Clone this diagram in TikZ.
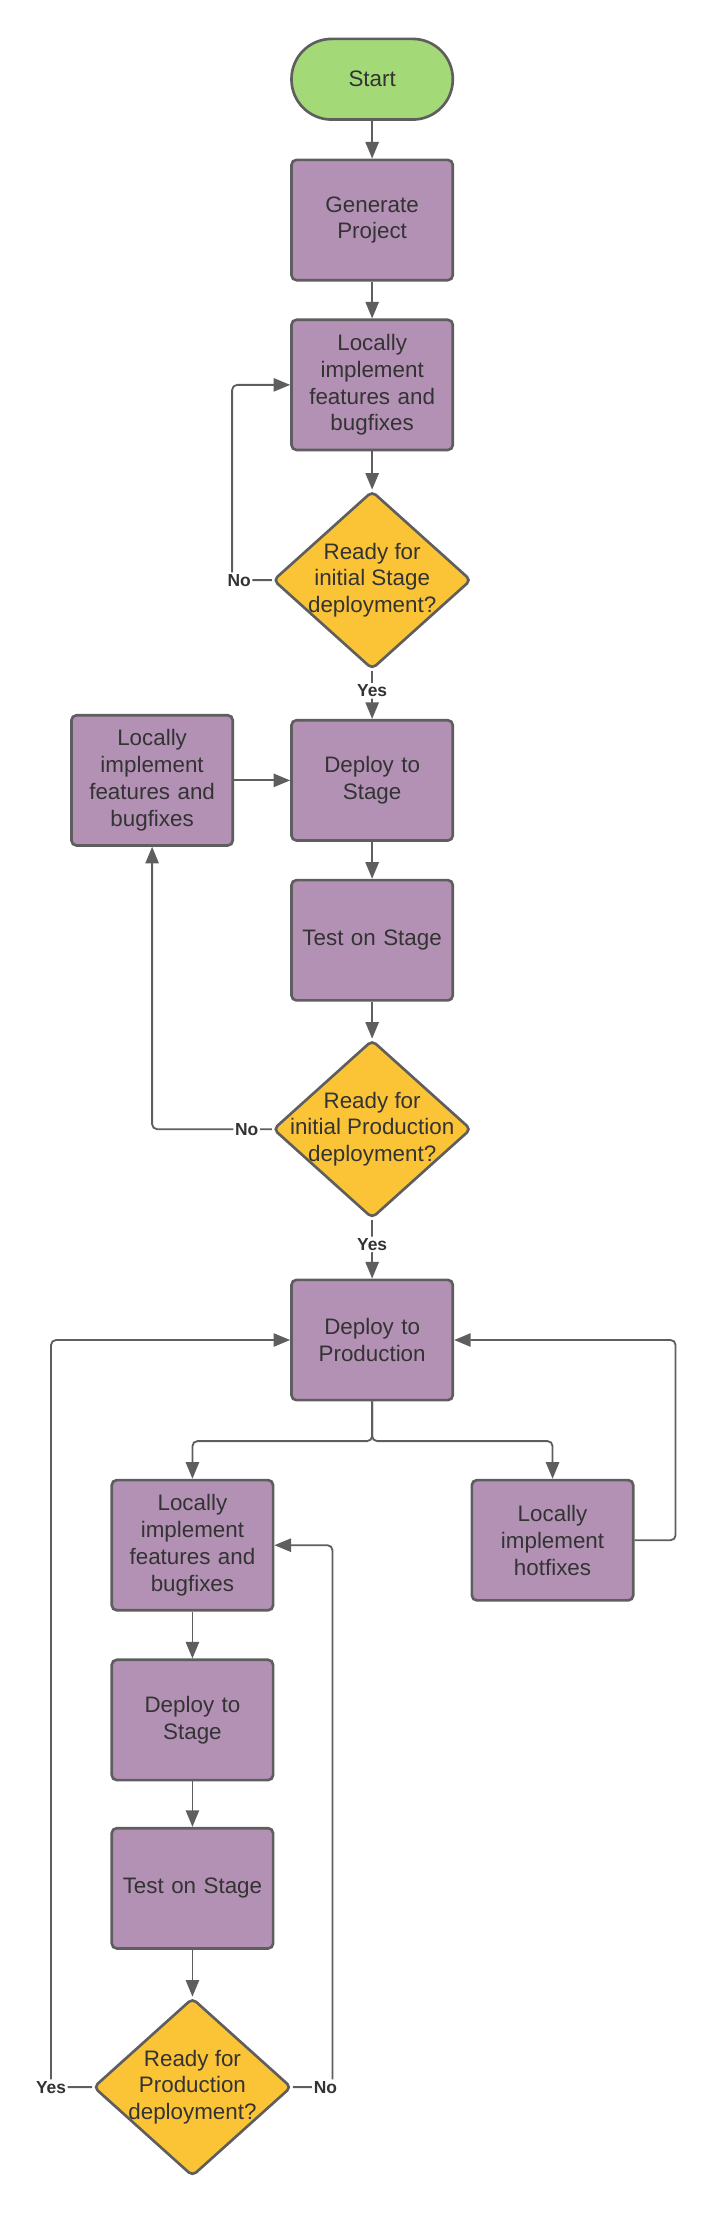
\documentclass[tikz,border=0pt]{standalone}
\usepackage{fontspec}
\setmainfont{Liberation Sans}
\usetikzlibrary{shapes.geometric,arrows.meta}
\definecolor{cgreen}{HTML}{A3D977}
\definecolor{cpurple}{HTML}{B391B5}
\definecolor{cyellow}{HTML}{FBC437}
\definecolor{cstroke}{HTML}{5E5E5E}
\definecolor{ctext}{HTML}{333333}
\begin{document}
\begin{tikzpicture}[x=0.03cm,y=-0.03cm,
 base/.style={draw=cstroke, line width=1.6pt, text=ctext, font=\fontsize{13.5}{16.2}\selectfont, align=center, inner sep=0pt},
 proc/.style={base, fill=cpurple, rounded corners=3pt, minimum width=3.42cm, minimum height=2.55cm, text width=3.3cm},
 tall/.style={proc, minimum height=2.76cm},
 startbox/.style={base, fill=cgreen, rounded corners=0.85cm, minimum width=3.42cm, minimum height=1.71cm},
 decision/.style={base, diamond, fill=cyellow, rounded corners=3pt, minimum width=4.2cm, minimum height=3.78cm},
 dtext/.style={text=ctext, font=\fontsize{13.5}{16.2}\selectfont, align=center, inner sep=0pt},
 arr/.style={draw=cstroke, line width=1.1pt, -{Triangle[length=10pt,width=8pt]}, rounded corners=3pt},
 lbl/.style={fill=white, text=ctext, font=\fontsize{10.5}{12}\selectfont\bfseries, inner sep=1pt}
]
\useasboundingbox (0,0) rectangle (504.6,1568.2);

\node[startbox] (start) at (263,56) {Start};
\node[proc] (gen) at (263,155.5) {Generate\\Project};
\node[tall] (loc1) at (263,272) {Locally\\implement\\features and\\bugfixes};
\node[decision, label={[dtext]center:{Ready for\\initial Stage\\deployment?}}] (d1) at (263,410) {};
\node[proc] (dst) at (263,551.5) {Deploy to\\Stage};
\node[tall] (loc2) at (107.5,551.5) {Locally\\implement\\features and\\bugfixes};
\node[proc] (tst) at (263,664.5) {Test on Stage};
\node[decision, label={[dtext]center:{Ready for\\initial Production\\deployment?}}] (d2) at (263,798) {};
\node[proc] (dp) at (263,947) {Deploy to\\Production};
\node[tall] (loc3) at (136,1092) {Locally\\implement\\features and\\bugfixes};
\node[proc] (hf) at (390.5,1088.5) {Locally\\implement\\hotfixes};
\node[proc] (dst2) at (136,1215.5) {Deploy to\\Stage};
\node[proc] (tst2) at (136,1334.5) {Test on Stage};
\node[decision, label={[dtext]center:{Ready for\\Production\\deployment?}}] (d3) at (136,1475) {};

\draw[arr] (start) -- (gen);
\draw[arr] (gen) -- (loc1);
\draw[arr] (loc1) -- (d1);
\draw[arr] (d1.west) -- ++(-28,0) node[lbl,xshift=0.15cm]{No} |- (loc1.west);
\draw[arr] (d1.south) -- node[lbl,pos=0.42]{Yes} (dst.north);
\draw[arr] (loc2.east) -- (loc2.east -| dst.west);
\draw[arr] (dst) -- (tst);
\draw[arr] (tst) -- (d2);
\draw[arr] (d2.west) -- node[lbl,pos=0.21]{No} (d2.west -| loc2.south) -- (loc2.south);
\draw[arr] (d2.south) -- node[lbl,pos=0.42]{Yes} (dp.north);
\draw[arr] (dp.south) -- ++(0,28) -| (loc3.north);
\draw[arr] (dp.south) -- ++(0,28) -| (hf.north);
\draw[arr] (hf.east) -- ++(29,0) |- (dp.east);
\draw[arr] (loc3) -- (dst2);
\draw[arr] (dst2) -- (tst2);
\draw[arr] (tst2) -- (d3);
\draw[arr] (d3.west) -- ++(-29,0) node[lbl]{Yes} |- (dp.west);
\draw[arr] (d3.east) -- ++(28,0) node[lbl,xshift=-0.15cm]{No} |- (loc3.east);
\end{tikzpicture}
\end{document}
